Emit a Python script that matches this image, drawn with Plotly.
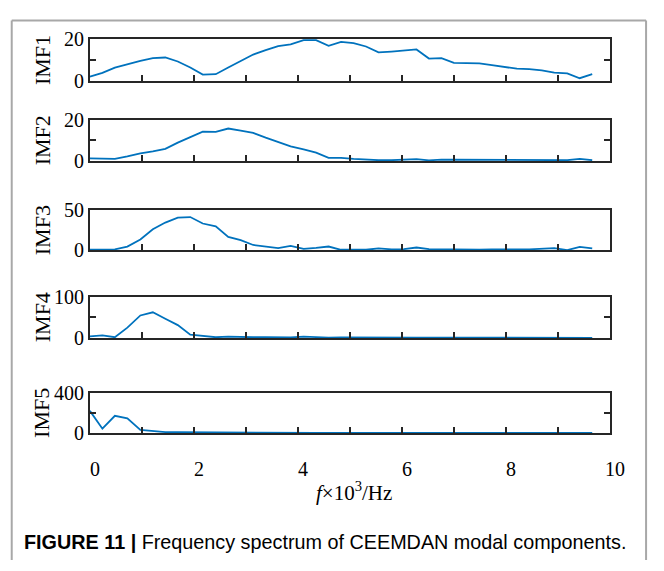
import plotly.graph_objects as go

# Frequency bins (kHz)
freq = [0.00, 0.24, 0.48, 0.72, 0.97, 1.21, 1.45, 1.69, 1.93, 2.17,
        2.42, 2.66, 2.90, 3.14, 3.38, 3.62, 3.86, 4.11, 4.35, 4.59,
        4.83, 5.07, 5.31, 5.55, 5.80, 6.04, 6.28, 6.52, 6.76, 7.00,
        7.24, 7.49, 7.73, 7.97, 8.21, 8.45, 8.69, 8.93, 9.18, 9.42, 9.66]

imf1 = [2.2, 3.9, 6.4, 8.1, 9.6, 10.9, 11.2, 9.3, 6.5, 3.1,
        3.3, 6.5, 9.6, 12.6, 14.7, 16.6, 17.4, 19.4, 19.4, 16.7,
        18.6, 18.0, 16.4, 13.6, 14.0, 14.4, 15.0, 10.7, 10.9, 8.7,
        8.7, 8.4, 7.6, 6.7, 5.9, 5.7, 5.1, 4.0, 3.7, 1.4, 3.3]

imf2 = [1.3, 1.0, 1.0, 2.2, 3.7, 4.6, 5.9, 8.9, 11.6, 14.2,
        14.1, 15.7, 14.7, 13.6, 11.3, 9.3, 7.1, 5.6, 4.0, 1.5,
        1.5, 1.0, 0.6, 0.4, 0.4, 0.7, 0.9, 0.3, 0.7, 0.6,
        0.6, 0.4, 0.3, 0.6, 0.4, 0.4, 0.4, 0.4, 0.4, 1.0, 0.4]

imf3 = [0.8, 0.8, 1.2, 4.8, 13.5, 26.2, 34.5, 40.5, 41.3, 33.3,
        29.8, 16.7, 12.7, 6.7, 5.2, 2.8, 5.6, 2.0, 3.2, 4.8,
        0.8, 0.8, 0.8, 2.4, 1.2, 1.6, 3.6, 1.6, 1.2, 1.6,
        1.2, 0.8, 1.2, 1.6, 1.2, 1.2, 1.6, 2.8, 0.4, 4.4, 2.4]

imf4 = [3.9, 6.2, 1.6, 24.8, 54.3, 62.0, 46.5, 31.0, 7.8, 4.7,
        1.6, 3.1, 1.6, 1.6, 1.6, 1.6, 1.2, 3.1, 1.2, 0.8,
        1.2, 0.8, 0.6, 0.5, 0.5, 0.5, 0.5, 0.4, 0.4, 0.4,
        0.4, 0.4, 0.4, 0.4, 0.4, 0.4, 0.4, 0.4, 0.3, 0.3, 0.3]

imf5 = [220, 44, 171, 146, 32, 19, 10, 8, 7, 6,
        5, 5, 4, 4, 4, 3, 3, 3, 3, 3,
        3, 3, 3, 3, 3, 3, 2, 2, 2, 2,
        2, 2, 2, 2, 2, 2, 2, 2, 2, 2, 2]

names = ["IMF1", "IMF2", "IMF3", "IMF4", "IMF5"]
series = [imf1, imf2, imf3, imf4, imf5]
y_max = [20, 20, 50, 100, 400]
y_labelled = [[0, 20], [0, 20], [0, 50], [0, 100], [0, 400]]
y_minor = [[10], [10], [], [50], [200]]
x_labelled = [0, 2, 4, 6, 8, 10]
x_minor = [1, 3, 5, 7, 9]

W, H = 664, 571


def px_x(p):
    return p / W


def px_y(p):
    return 1 - p / H


# pixel rows (top, bottom) of each panel
rows_px = [(29, 73), (113, 156), (207, 249), (297, 340), (397, 439)]
x_px = (92, 624)

line_col = "#0072BD"
ax_col = "#262626"
serif = "Liberation Serif, Times New Roman, serif"
tick_style = dict(ticks="inside", ticklen=6, tickwidth=1.5, tickcolor=ax_col)

fig = go.Figure()
for k, (name, vals) in enumerate(zip(names, series)):
    xa = "x" if k == 0 else f"x{k+1}"
    ya = "y" if k == 0 else f"y{k+1}"
    fig.add_trace(go.Scatter(x=freq, y=vals, mode="lines", xaxis=xa, yaxis=ya,
                             line=dict(color=line_col, width=1.8),
                             showlegend=False, hoverinfo="skip"))
    top, bot = rows_px[k]
    last = k == len(names) - 1
    xkey = "xaxis" if k == 0 else f"xaxis{k+1}"
    ykey = "yaxis" if k == 0 else f"yaxis{k+1}"
    ymin = dict(tickmode="array", tickvals=y_minor[k], **tick_style) \
        if y_minor[k] else dict(ticks="")
    fig.update_layout(**{
        xkey: dict(domain=[px_x(x_px[0]), px_x(x_px[1])], range=[0, 10],
                   anchor=ya, tickmode="array", tickvals=x_labelled,
                   minor=dict(tickmode="array", tickvals=x_minor, **tick_style),
                   showticklabels=last, showline=True, linecolor=ax_col,
                   linewidth=2, mirror=True, showgrid=False, zeroline=False,
                   tickfont=dict(family=serif, size=20, color="black"),
                   ticklabelstandoff=17, ticklabelshift=5, **tick_style),
        ykey: dict(domain=[px_y(bot), px_y(top)], range=[0, y_max[k]],
                   anchor=xa, tickmode="array", tickvals=y_labelled[k],
                   minor=ymin,
                   showline=True, linecolor=ax_col, linewidth=2,
                   mirror="ticks", showgrid=False, zeroline=False,
                   tickfont=dict(family=serif, size=20, color="black"),
                   **tick_style),
    })
    fig.add_annotation(text=name, xref="paper", yref="paper",
                       x=px_x(43), y=px_y((top + bot) / 2),
                       textangle=-90, showarrow=False,
                       xanchor="center", yanchor="middle",
                       font=dict(family=serif, size=22, color="black"))

# axis label
fig.add_annotation(text="<i>f</i>×10<sup>3</sup>/Hz", xref="paper", yref="paper",
                   x=px_x(362), y=px_y(500), showarrow=False,
                   xanchor="center", yanchor="middle",
                   font=dict(family=serif, size=21, color="black"))

# caption
fig.add_annotation(text="<b>FIGURE 11 |</b> Frequency spectrum of CEEMDAN modal components.",
                   xref="paper", yref="paper", x=px_x(22), y=px_y(552),
                   showarrow=False, xanchor="left", yanchor="middle",
                   font=dict(family="Liberation Sans, Arial, sans-serif",
                             size=19.8, color="black"))

# outer frame, open at the bottom edge
frame = dict(color="#a8a8a8", width=2)
fig.add_shape(type="line", xref="paper", yref="paper",
              x0=px_x(12), x1=px_x(661), y0=px_y(10), y1=px_y(10), line=frame)
fig.add_shape(type="line", xref="paper", yref="paper",
              x0=px_x(12), x1=px_x(12), y0=px_y(10), y1=px_y(571), line=frame)
fig.add_shape(type="line", xref="paper", yref="paper",
              x0=px_x(661), x1=px_x(661), y0=px_y(10), y1=px_y(571), line=frame)

fig.update_layout(width=W, height=H, margin=dict(l=0, r=0, t=0, b=0),
                  paper_bgcolor="white", plot_bgcolor="white")

fig.write_html("out.html")
